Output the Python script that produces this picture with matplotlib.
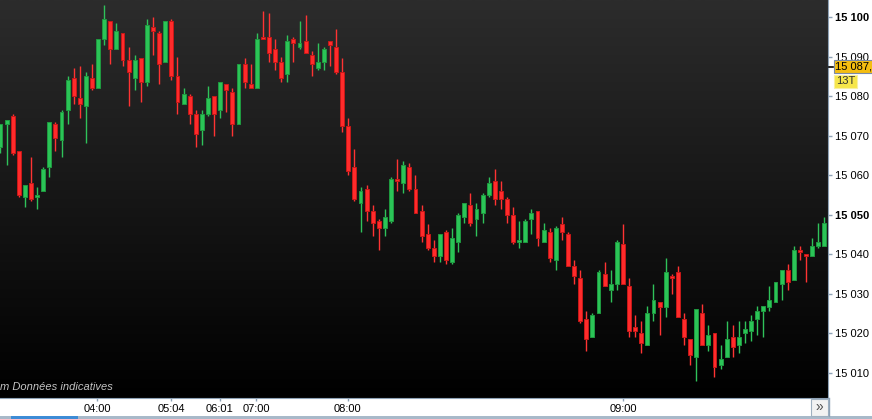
import matplotlib.pyplot as plt
import matplotlib.patches as mpatches
from matplotlib.colors import LinearSegmentedColormap
import numpy as np

# 13-tick candles
opens = [15067.0, 15073.0, 15075.0, 15066.0, 15054.5, 15058.0, 15054.5, 15056.0, 15062.0, 15073.0,
         15069.0, 15076.5, 15084.5, 15079.5, 15077.5, 15084.5, 15082.0, 15094.5, 15099.0, 15092.0,
         15096.0, 15089.0, 15084.5, 15089.5, 15083.5, 15097.5, 15096.0, 15088.5, 15099.0, 15085.0,
         15078.0, 15080.0, 15075.5, 15071.5, 15075.5, 15080.0, 15076.5, 15083.0, 15081.0, 15073.0,
         15088.0, 15083.0, 15082.0, 15095.0, 15095.0, 15092.0, 15088.5, 15085.5, 15094.5, 15092.5,
         15094.0, 15090.5, 15087.0, 15088.5, 15094.0, 15092.5, 15086.0, 15072.5, 15062.0, 15053.0,
         15056.5, 15051.0, 15048.5, 15046.5, 15048.5, 15059.0, 15058.0, 15062.0, 15056.5, 15051.0,
         15045.0, 15041.5, 15039.5, 15045.5, 15038.0, 15043.0, 15049.5, 15052.5, 15049.0, 15050.5,
         15055.0, 15058.5, 15056.0, 15054.0, 15050.0, 15043.0, 15043.0, 15049.0, 15051.0, 15043.0,
         15045.5, 15038.5, 15047.5, 15045.0, 15037.0, 15034.0, 15023.5, 15019.0, 15025.0, 15035.0,
         15031.0, 15032.5, 15042.5, 15032.0, 15021.5, 15020.0, 15017.0, 15025.0, 15028.0, 15026.5,
         15034.5, 15035.5, 15023.5, 15018.5, 15014.0, 15025.0, 15017.0, 15020.0, 15012.0, 15014.0,
         15019.0, 15017.0, 15020.0, 15020.5, 15023.5, 15025.5, 15026.5, 15028.0, 15032.5, 15036.0,
         15033.5, 15041.0, 15040.0, 15039.5, 15042.0, 15042.0]
highs = [15073.0, 15074.0, 15075.5, 15066.0, 15057.5, 15064.5, 15057.0, 15062.0, 15073.5, 15073.5,
         15076.5, 15085.0, 15087.0, 15087.5, 15086.0, 15088.0, 15094.5, 15103.0, 15099.0, 15098.5,
         15096.0, 15092.5, 15090.5, 15089.5, 15099.5, 15100.0, 15096.5, 15099.0, 15099.5, 15090.0,
         15082.0, 15080.5, 15076.5, 15076.5, 15082.5, 15080.0, 15083.5, 15083.0, 15082.0, 15088.0,
         15089.5, 15088.0, 15096.0, 15101.5, 15101.0, 15094.5, 15090.0, 15095.5, 15095.0, 15099.0,
         15100.5, 15091.5, 15093.5, 15092.5, 15094.0, 15097.0, 15089.5, 15074.5, 15066.5, 15057.0,
         15057.5, 15052.5, 15049.0, 15051.5, 15059.5, 15064.0, 15063.5, 15063.0, 15060.0, 15052.5,
         15047.5, 15043.5, 15045.0, 15046.0, 15046.5, 15050.5, 15053.0, 15055.5, 15053.0, 15055.5,
         15059.5, 15061.5, 15058.5, 15054.5, 15052.0, 15048.5, 15049.0, 15051.5, 15051.0, 15048.0,
         15046.5, 15047.0, 15049.5, 15045.5, 15038.5, 15036.0, 15025.5, 15025.0, 15036.0, 15038.0,
         15036.0, 15043.5, 15047.5, 15034.0, 15024.5, 15023.0, 15027.0, 15032.5, 15028.0, 15039.0,
         15035.0, 15037.0, 15025.0, 15018.5, 15026.0, 15027.5, 15022.0, 15020.0, 15017.0, 15023.0,
         15022.0, 15023.0, 15023.0, 15024.5, 15027.0, 15027.0, 15032.0, 15033.0, 15036.0, 15037.5,
         15042.0, 15042.0, 15040.0, 15044.0, 15048.0, 15049.5]
lows = [15065.5, 15062.5, 15065.0, 15054.5, 15052.0, 15053.5, 15051.5, 15056.0, 15059.5, 15066.0,
        15064.5, 15073.0, 15078.0, 15074.5, 15068.0, 15081.5, 15082.0, 15093.0, 15088.0, 15092.0,
        15087.5, 15077.5, 15081.5, 15078.5, 15082.5, 15090.5, 15083.0, 15088.5, 15084.0, 15075.5,
        15078.0, 15073.0, 15067.0, 15067.5, 15075.0, 15070.0, 15074.5, 15076.0, 15070.0, 15073.0,
        15082.0, 15082.0, 15082.0, 15094.5, 15088.5, 15086.5, 15083.5, 15083.5, 15088.5, 15092.0,
        15091.0, 15085.0, 15086.5, 15086.5, 15087.5, 15085.5, 15071.0, 15060.0, 15053.5, 15045.5,
        15048.5, 15044.5, 15041.0, 15044.5, 15048.0, 15056.0, 15055.5, 15056.0, 15050.5, 15043.0,
        15041.0, 15038.0, 15038.0, 15037.5, 15037.5, 15040.5, 15048.0, 15047.0, 15044.5, 15048.0,
        15054.5, 15052.5, 15051.5, 15048.0, 15042.5, 15041.5, 15043.0, 15045.0, 15042.0, 15043.0,
        15038.0, 15036.0, 15043.5, 15037.0, 15032.5, 15022.5, 15015.5, 15019.0, 15025.0, 15032.0,
        15028.0, 15031.0, 15032.5, 15019.0, 15019.0, 15015.0, 15017.0, 15023.0, 15019.5, 15024.0,
        15030.0, 15024.0, 15017.0, 15012.0, 15008.0, 15017.0, 15015.5, 15009.0, 15011.0, 15014.0,
        15014.0, 15015.0, 15017.5, 15018.0, 15019.5, 15019.0, 15025.5, 15028.0, 15028.5, 15031.0,
        15033.5, 15038.5, 15033.0, 15039.5, 15041.5, 15042.0]
closes = [15073.0, 15074.0, 15065.5, 15055.0, 15057.5, 15054.0, 15055.0, 15061.5, 15073.5, 15069.5,
          15076.0, 15084.0, 15080.0, 15078.0, 15085.0, 15082.0, 15094.5, 15099.5, 15092.0, 15096.5,
          15089.0, 15086.0, 15089.0, 15083.5, 15098.0, 15096.5, 15088.0, 15099.0, 15085.0, 15078.5,
          15080.5, 15075.5, 15070.5, 15075.5, 15079.5, 15075.5, 15083.5, 15081.5, 15073.0, 15088.0,
          15083.5, 15082.0, 15094.5, 15094.5, 15091.0, 15088.5, 15084.5, 15094.0, 15093.5, 15093.5,
          15091.0, 15088.0, 15088.5, 15092.0, 15093.0, 15086.0, 15072.5, 15061.0, 15054.0, 15056.0,
          15051.0, 15048.0, 15046.5, 15049.5, 15059.0, 15058.5, 15062.5, 15056.5, 15050.5, 15044.5,
          15041.5, 15039.5, 15045.0, 15038.5, 15044.0, 15050.0, 15053.0, 15048.0, 15051.5, 15055.0,
          15058.0, 15054.0, 15054.0, 15050.0, 15043.0, 15043.5, 15048.5, 15050.5, 15044.0, 15046.0,
          15039.0, 15046.5, 15045.5, 15037.0, 15034.5, 15023.0, 15018.5, 15024.5, 15035.5, 15032.0,
          15032.5, 15043.0, 15032.5, 15020.5, 15020.5, 15017.5, 15025.0, 15028.5, 15026.5, 15035.5,
          15034.0, 15024.0, 15019.0, 15014.5, 15026.0, 15017.0, 15019.5, 15011.5, 15013.5, 15018.5,
          15016.5, 15019.0, 15021.0, 15023.0, 15025.5, 15027.0, 15028.5, 15033.0, 15036.0, 15033.0,
          15041.0, 15040.5, 15039.5, 15042.0, 15043.0, 15048.0]

time_ticks = [15.85, 28.0, 35.95, 41.85, 56.9, 102.0]   # candle index where the label sits
time_labels = ["04:00", "05:04", "06:01", "07:00", "08:00", "09:00"]
price_ticks = [15010, 15020, 15030, 15040, 15050, 15060, 15070, 15080, 15090, 15100]
bold_prices = [15050, 15100]
marker_price = 15087.4
marker_text = "15 087,50"
period_text = "13T"
note_text = "m Données indicatives"

W, H = 872, 419
fig = plt.figure(figsize=(W / 100, H / 100), dpi=100)
fig.patch.set_facecolor("white")
plt.rcParams["font.family"] = ["Liberation Sans", "DejaVu Sans"]

ax = fig.add_axes([0, 21 / H, 828 / W, 398 / H])
ax.set_xlim(-0.08, 135.6)
ax.set_ylim(15003.6, 15104.3)

# dark vertical gradient background
cmap_bg = LinearSegmentedColormap.from_list("bg", ["#000000", "#2c2c2c"])
ax.imshow(np.linspace(0, 1, 256).reshape(-1, 1), cmap=cmap_bg, aspect="auto",
          extent=[-0.08, 135.6, 15003.6, 15104.3], origin="lower", zorder=0)

o = np.array(opens)
h = np.array(highs)
l = np.array(lows)
c = np.array(closes)
idx = np.arange(len(o))
up = c >= o
lo = np.minimum(o, c)
hgt = np.maximum(np.abs(c - o), 0.55)

for mask, wick, face, edge in [(up, "#2fc25a", "#2bc457", "#1f9a40"),
                               (~up, "#ff3333", "#ff2b2b", "#c81818")]:
    ax.vlines(idx[mask], l[mask], h[mask], color=wick, lw=1.0, zorder=2)
    ax.bar(idx[mask], hgt[mask], 0.64, bottom=lo[mask], color=face,
           edgecolor=edge, lw=0.7, zorder=3)

# axes styling
for s in ["top", "left"]:
    ax.spines[s].set_visible(False)
ax.spines["right"].set_color("#8ea2b6")
ax.spines["bottom"].set_color("#8ea2b6")
ax.yaxis.tick_right()
ax.set_yticks(price_ticks)
ax.set_yticklabels([f"{p // 1000} {p % 1000:03d}" for p in price_ticks])
for lab, p in zip(ax.get_yticklabels(), price_ticks):
    if p in bold_prices:
        lab.set_fontweight("bold")
ax.tick_params(axis="y", length=3, width=1, color="#8ea2b6", pad=2.2,
               labelsize=8, labelcolor="black")
ax.set_xticks(time_ticks)
ax.set_xticklabels(time_labels)
ax.tick_params(axis="x", length=2.5, width=1, color="#8ea2b6", pad=1.5,
               labelsize=8, labelcolor="black")

ax.text(0.0, 6 / 398, note_text, transform=ax.transAxes, fontsize=8,
        style="italic", color="#c4c4c4", ha="left", va="bottom", zorder=5)

# figure chrome: right border continuation, scroll strip, >> button
fig.add_artist(plt.Line2D([828.5 / W, 828.5 / W], [3 / H, 21 / H], color="#8ea2b6", lw=1))
fig.add_artist(mpatches.Rectangle((0, 0), 1, 3.5 / H, transform=fig.transFigure,
                                  facecolor="#a8b9c9", edgecolor="none"))
fig.add_artist(mpatches.Rectangle((11 / W, 0), 67 / W, 3.5 / H, transform=fig.transFigure,
                                  facecolor="#3d8cd6", edgecolor="none"))
fig.add_artist(mpatches.Rectangle((811 / W, 3.5 / H), 17 / W, 17 / H, transform=fig.transFigure,
                                  facecolor="#f2f2f2", edgecolor="#9fb0c0", lw=0.8))
fig.text(819.5 / W, 12 / H, "»", fontsize=10, ha="center", va="center", color="#505050")

# current price marker and bar period label
y_mark = ax.transData.transform((0, marker_price))[1] / H
fig.add_artist(plt.Line2D([828.5 / W, 833 / W], [y_mark, y_mark], color="black", lw=1.2))
fig.text(835 / W, y_mark, marker_text, fontsize=8, ha="left", va="center", color="black",
         bbox=dict(boxstyle="square,pad=0.12", facecolor="#f4bd10", edgecolor="#7a8aa6", lw=0.8),
         zorder=10)
fig.text(836 / W, y_mark - 14.5 / H, period_text, fontsize=8, ha="left", va="center",
         color="#303030",
         bbox=dict(boxstyle="square,pad=0.15", facecolor="#f6e64a", edgecolor="#f8f0a0", lw=0.8),
         zorder=10)

fig.savefig("out.png", dpi=100)
